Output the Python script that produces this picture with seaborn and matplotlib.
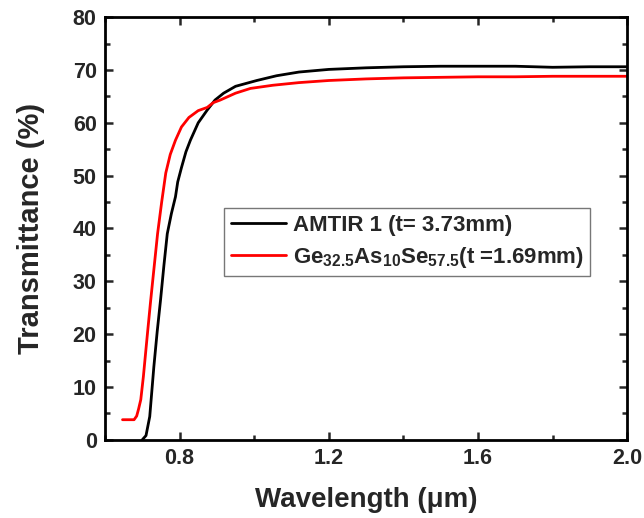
import matplotlib
matplotlib.use("Agg")
import matplotlib.pyplot as plt
import seaborn as sns
import pandas as pd
from matplotlib.ticker import MultipleLocator

# Data
amtir_x = [0.700, 0.710, 0.720, 0.731, 0.740, 0.749, 0.758, 0.767, 0.778, 0.789, 0.795,
           0.805, 0.817, 0.829, 0.850, 0.874, 0.895, 0.918, 0.95, 1.007, 1.06, 1.12,
           1.2, 1.3, 1.4, 1.5, 1.6, 1.7, 1.8, 1.9, 2.0]
amtir_y = [0.0, 0.8, 4.4, 13.8, 20.5, 26.5, 33.0, 39.0, 42.8, 46.0, 48.8,
           51.5, 54.5, 56.7, 60.0, 62.4, 64.3, 65.6, 66.9, 68.0, 68.9, 69.6,
           70.1, 70.4, 70.6, 70.7, 70.7, 70.7, 70.5, 70.6, 70.6]

ge_x = [0.647, 0.678, 0.685, 0.690, 0.696, 0.703, 0.709, 0.714, 0.722, 0.730, 0.741,
        0.752, 0.763, 0.775, 0.789, 0.805, 0.825, 0.850, 0.874, 0.890, 0.909, 0.95,
        0.99, 1.05, 1.12, 1.2, 1.3, 1.4, 1.5, 1.6, 1.7, 1.8, 1.9, 2.0]
ge_y = [3.8, 3.8, 4.5, 5.8, 7.6, 12.0, 16.5, 20.2, 26.0, 31.5, 39.0,
        45.0, 50.5, 54.0, 56.7, 59.2, 61.0, 62.3, 62.9, 63.8, 64.3, 65.6,
        66.5, 67.1, 67.6, 68.0, 68.3, 68.5, 68.6, 68.7, 68.7, 68.8, 68.8, 68.8]

x_ticks = [0.8, 1.2, 1.6, 2.0]
x_tick_labels = ["0.8", "1.2", "1.6", "2.0"]

label_amtir = "AMTIR 1 (t= 3.73mm)"
label_ge = r"Ge$_{\mathbf{32.5}}$As$_{\mathbf{10}}$Se$_{\mathbf{57.5}}$(t =1.69mm)"

df = pd.concat([
    pd.DataFrame({"x": amtir_x, "y": amtir_y, "sample": label_amtir}),
    pd.DataFrame({"x": ge_x, "y": ge_y, "sample": label_ge}),
], ignore_index=True)

sns.set_style("ticks")
plt.rcParams["font.family"] = ["Liberation Sans", "DejaVu Sans"]
plt.rcParams["font.weight"] = "bold"
plt.rcParams["mathtext.fontset"] = "custom"
plt.rcParams["mathtext.rm"] = "Liberation Sans:bold"
plt.rcParams["mathtext.bf"] = "Liberation Sans:bold"
plt.rcParams["mathtext.it"] = "Liberation Sans:bold"

fig = plt.figure(figsize=(6.44, 5.18), dpi=100)
ax = fig.add_axes([0.163, 0.151, 0.811, 0.816])

sns.lineplot(data=df, x="x", y="y", hue="sample", sort=False,
             palette={label_amtir: "black", label_ge: "#ff0000"},
             linewidth=2.0, ax=ax, estimator=None)

ax.set_xlim(0.6, 2.0)
ax.set_ylim(0, 80)
ax.xaxis.set_minor_locator(MultipleLocator(0.2))
ax.yaxis.set_major_locator(MultipleLocator(10))
ax.yaxis.set_minor_locator(MultipleLocator(5))
ax.set_xticks(x_ticks)
ax.set_xticklabels(x_tick_labels)

ax.tick_params(which="both", direction="in", top=True, right=True, width=1.8,
               labelsize=15.5, pad=6)
ax.tick_params(which="major", length=6)
ax.tick_params(which="minor", length=3.5)
for lbl in ax.get_xticklabels() + ax.get_yticklabels():
    lbl.set_fontweight("bold")
for s in ax.spines.values():
    s.set_linewidth(2.0)
    s.set_color("black")

ax.set_xlabel("Wavelength (\u03bcm)", fontsize=20, fontweight="bold", labelpad=13)
ax.set_ylabel("Transmittance (%)", fontsize=21, fontweight="bold", labelpad=20)

leg = ax.legend(loc="upper left", bbox_to_anchor=(0.228, 0.548), borderaxespad=0,
                fancybox=False, frameon=True, edgecolor="#555555",
                prop={"size": 16, "weight": "bold"}, handlelength=2.5,
                handletextpad=0.3, borderpad=0.3, labelspacing=0.4)
leg.get_frame().set_linewidth(1.0)

fig.savefig("out.png", dpi=100)
